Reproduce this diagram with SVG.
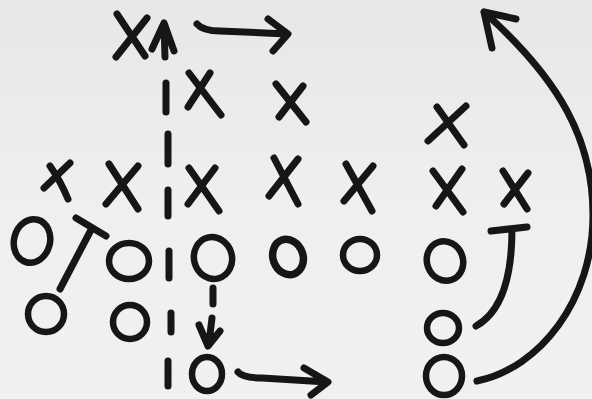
<svg xmlns="http://www.w3.org/2000/svg" width="592" height="399" viewBox="0 0 592 399">
<defs>
<linearGradient id="bg" x1="0" y1="0" x2="0" y2="1">
<stop offset="0" stop-color="#e9e7e6"/>
<stop offset="0.5" stop-color="#f0efee"/>
<stop offset="1" stop-color="#f1f1f0"/>
</linearGradient>
<style>
.s{fill:none;stroke:#161616;stroke-width:7;stroke-linecap:round;stroke-linejoin:round}
.o{fill:none;stroke:#161616;stroke-width:6.5;stroke-linecap:round}
</style>
</defs>
<rect width="592" height="399" fill="url(#bg)"/>
<g id="defense">
<path class="s" d="M117,14 L145,56 M147,18 L116,57"/>
<path class="s" d="M189,73 L221,115 M210,73 L188,107"/>
<path class="s" d="M276,84 L306,122 M303,86 L279,117"/>
<path class="s" d="M437,107 L464,145 M466,106 L428,141"/>
<path class="s" d="M50,166 Q60,180 68,199 M70,163 L44,188"/>
<path class="s" d="M109,164 L138,209 M138,166 L106,204"/>
<path class="s" d="M189,168 L219,211 M215,168 L188,204"/>
<path class="s" d="M274,158 L298,204 M298,159 L269,196"/>
<path class="s" d="M346,164 L372,211 M373,166 L344,201"/>
<path class="s" d="M433,171 L463,212 M462,169 L436,206"/>
<path class="s" d="M503,171 L527,209 M528,173 L504,204"/>
</g>
<g id="offense">
<ellipse class="o" cx="32" cy="241" rx="18" ry="22" transform="rotate(15 32 241)"/>
<ellipse class="o" cx="129" cy="261" rx="20" ry="18"/>
<ellipse class="o" cx="213" cy="258" rx="19" ry="21" transform="rotate(-15 213 258)"/>
<ellipse class="o" cx="288" cy="257" rx="15" ry="18" transform="rotate(-20 288 257)" style="stroke-width:7.5"/>
<ellipse class="o" cx="360" cy="255" rx="17" ry="16"/>
<ellipse class="o" cx="445" cy="261" rx="18" ry="20" transform="rotate(-20 445 261)"/>
<ellipse class="o" cx="46" cy="314" rx="18" ry="18"/>
<ellipse class="o" cx="130" cy="322" rx="17" ry="17"/>
<ellipse class="o" cx="443" cy="328" rx="16" ry="15"/>
<ellipse class="o" cx="207" cy="374" rx="15" ry="17"/>
<ellipse class="o" cx="444" cy="376" rx="18" ry="19"/>
</g>
<g id="connectors">
<path class="s" d="M76,218 L106,236 M92,228 L60,289"/>
<path class="s" d="M491,231 L527,227 M512,229 C512,270 505,310 476,326"/>
<path class="s" d="M165,57 L164,24 M152,49 L164,23 L174,51"/>
<path class="s" d="M166,83 L166,112 M168,134 L168,164 M168,190 L168,216 M169,251 L169,278 M171,313 L171,332 M168,361 L168,386"/>
<path class="s" d="M197,24 Q203,31 220,31 L287,34 M268,19 L288,34 L273,51"/>
<path class="s" d="M213,288 L213,304 M212,318 L209,343 M199,325 L208,346 L220,331"/>
<path class="s" d="M238,372 Q243,378 262,378 L327,382 M304,368 L328,382 L311,395"/>
<path class="s" d="M477,381 C540,368 593,300 593,215 C593,140 560,80 484,12 M484,12 L492,48 M484,12 L516,19"/>
</g>
</svg>
